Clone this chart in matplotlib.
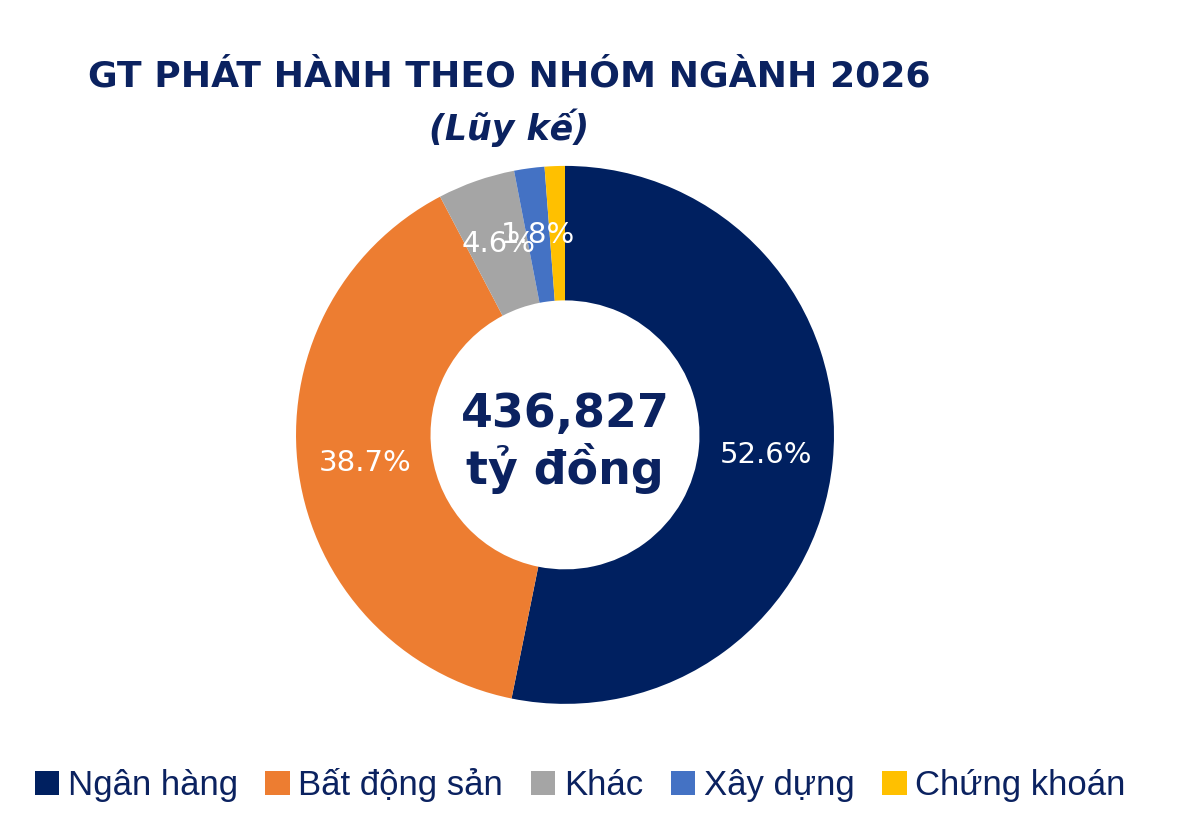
import numpy as np
import matplotlib.pyplot as plt
from matplotlib.patches import Patch

# Data
categories = ['Ngân hàng', 'Bất động sản', 'Khác', 'Xây dựng', 'Chứng khoán']
shares = [52.6, 38.7, 4.6, 1.8, 1.2]
show_label = [True, True, True, True, False]
total_text = '436,827\ntỷ đồng'
colors = ['#002060', '#ED7D31', '#A5A5A5', '#4472C4', '#FFC000']
navy = '#0B2260'

fig = plt.figure(figsize=(11.84, 8.32), dpi=100)
ax = fig.add_axes([0.25, 0.154, 0.4544, 0.6466])

wedges, _ = ax.pie(shares, colors=colors, startangle=90, counterclock=False,
                   wedgeprops=dict(width=0.5, edgecolor='none'))
ax.set_xlim(-1, 1)
ax.set_ylim(-1, 1)
ax.set_aspect('equal')

# Percentage labels placed in the middle of the ring
for w, val, show in zip(wedges, shares, show_label):
    if not show:
        continue
    ang = np.deg2rad((w.theta1 + w.theta2) / 2)
    x, y = 0.75 * np.cos(ang), 0.75 * np.sin(ang)
    ax.text(x, y, f'{val:.1f}%', ha='center', va='center', color='white',
            fontsize=21)

ax.text(0, -0.03, total_text, ha='center', va='center', color=navy,
        fontsize=33, fontweight='bold', linespacing=1.15)

fig.text(0.43, 0.908, 'GT PHÁT HÀNH THEO NHÓM NGÀNH 2026', ha='center', va='center',
         color=navy, fontsize=26, fontweight='bold')
fig.text(0.43, 0.847, '(Lũy kế)', ha='center', va='center', color=navy,
         fontsize=25, fontweight='bold', style='italic')

handles = [Patch(facecolor=c, edgecolor='none') for c in colors]
fig.legend(handles, categories, loc='center', bbox_to_anchor=(0.49, 0.056), ncol=5,
           frameon=False, handlelength=0.7, handleheight=0.7, handletextpad=0.25,
           columnspacing=0.8, prop={'family': 'Liberation Sans', 'size': 25},
           labelcolor=navy)

fig.savefig('out.png', dpi=100)
